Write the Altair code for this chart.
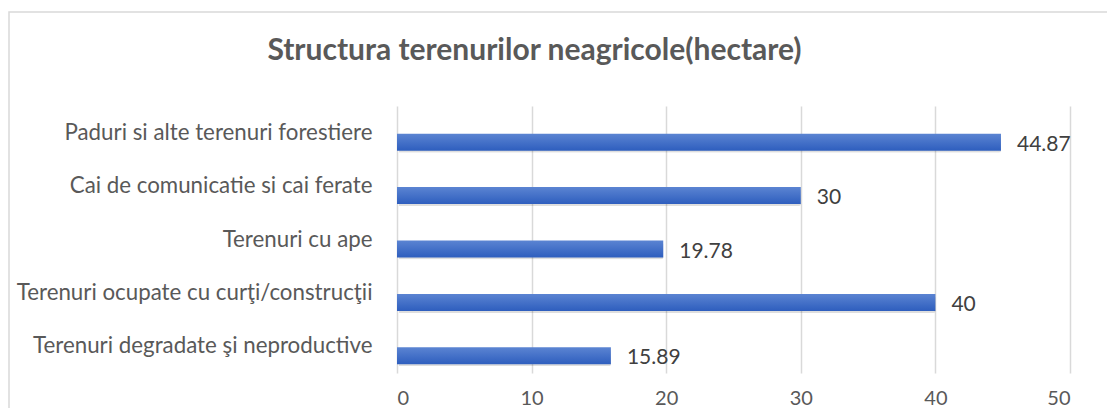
import altair as alt
import pandas as pd

categories = [
    "Paduri si alte terenuri forestiere",
    "Cai de comunicatie si cai ferate",
    "Terenuri cu ape ",
    "Terenuri ocupate cu curţi/construcţii",
    "Terenuri degradate şi neproductive",
]
values = [44.87, 30, 19.78, 40, 15.89]
labels = ["44.87", "30", "19.78", "40", "15.89"]
ticks = [0, 10, 20, 30, 40, 50]

df = pd.DataFrame({"cat": categories, "val": values, "lab": labels})

FONT = "Lato"
W, H = 673, 267
PL, PT, PR, PB = 389, 98, 37, 35

x = alt.X("val:Q", scale=alt.Scale(domain=[0, 50], nice=False, zero=True),
          axis=alt.Axis(values=ticks, title=None, grid=True, gridColor="#d9d9d9",
                        gridWidth=1.5, domain=False, ticks=False, labelFontSize=20,
                        labelColor="#595959", labelFont=FONT, labelPadding=15,
                        format="d"))
y = alt.Y("cat:N", sort=categories,
          axis=alt.Axis(title=None, domain=False, ticks=False, grid=False,
                        labelFontSize=22.3, labelColor="#595959", labelFont=FONT,
                        labelPadding=25, labelLimit=500),
          scale=alt.Scale(paddingInner=0, paddingOuter=0))

base = alt.Chart(df)

shadow = base.mark_bar(color="#000000", opacity=0.13, height=17, yOffset=11.5, xOffset=2,
                       cornerRadius=2).encode(x=x, y=y)

bars = base.mark_bar(
    height=17, yOffset=9.5,
    color=alt.Gradient(gradient="linear",
                       stops=[alt.GradientStop(color="#5b84d2", offset=0),
                              alt.GradientStop(color="#2e5ebe", offset=1)],
                       x1=0, x2=0, y1=0, y2=1),
).encode(x=x, y=y)

text = base.mark_text(align="left", dx=16, yOffset=12, fontSize=21, font=FONT,
                      color="#404040").encode(x=x, y=y, text="lab:N")

border = alt.Chart(pd.DataFrame({"a": [0]})).mark_rect(
    fill=None, stroke="#d9d9d9", strokeWidth=1.5
).encode(x=alt.value(-PL + 1), x2=alt.value(W + PR + 20),
         y=alt.value(-PT + 4), y2=alt.value(H + PB + 20))

chart = alt.layer(border, shadow, bars, text).properties(
    width=W, height=H,
    title=alt.TitleParams(text="Structura terenurilor neagricole(hectare)",
                          font=FONT, fontSize=30, fontWeight="bold", color="#595959",
                          anchor="middle", frame="group", dx=-199, offset=0, dy=55),
    autosize=alt.AutoSizeParams(type="none"),
    padding={"left": PL, "top": PT, "right": PR, "bottom": PB},
).configure_view(stroke=None)

chart.save("out.html", embed_options={"renderer": "svg", "actions": False})
